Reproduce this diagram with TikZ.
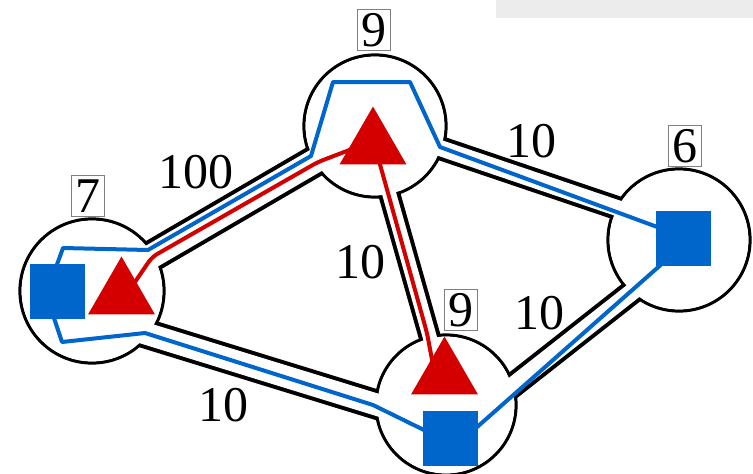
\documentclass[tikz,border=0pt]{standalone}
\usepackage{fontspec}
\setmainfont{Liberation Serif}
\usetikzlibrary{calc,shapes.geometric}
\definecolor{netblue}{HTML}{0066CC}
\definecolor{netred}{HTML}{D40000}
\definecolor{bargray}{HTML}{ECECEC}

\begin{document}
\begin{tikzpicture}[x=1pt,y=-1pt,
  site/.style={circle,draw,line width=3.2pt,inner sep=0,minimum size=#1},
  cost/.style={font=\fontsize{50}{60}\selectfont,inner sep=0},
  wt/.style={draw=gray,line width=1.2pt,font=\fontsize{50}{60}\selectfont,inner sep=4pt},
  sq/.style={fill=netblue,inner sep=0,minimum size=55},
  tri/.style={regular polygon,regular polygon sides=3,fill=netred,inner sep=0,minimum size=77},
  bl/.style={netblue,line width=4pt,line join=round},
  rd/.style={netred,line width=4pt,line join=round,rounded corners=6pt}]

\useasboundingbox (0,0) rectangle (753,474);
\fill[bargray] (496,0) rectangle (753,18);

% routers
\node[site=144] (A) at (92,291) {};
\node[site=142] (B) at (375,126) {};
\node[site=140] (C) at (446,405) {};
\node[site=142] (D) at (679,240) {};

% tube ends
\coordinate (bdD) at ($(D)+(0,-11)$);
\coordinate (acA) at ($(A)+(0,26)$);
\coordinate (acC) at ($(C)+(0,21)$);
\coordinate (bcB) at ($(B)+(-5,0)$);
\coordinate (bcC) at ($(C)+(3,0)$);
\coordinate (cdC) at ($(C)+(0,33)$);
\coordinate (cdD) at ($(D)+(0,15)$);

% tubes: black rim, then white inside
\foreach \s/\t/\w in {A/B/28,B/bdD/20,acA/acC/26,bcB/bcC/18,cdC/cdD/21}
  \draw[line width={(\w+4)*1pt}] (\s.center) -- (\t.center);
\foreach \s/\t/\w in {A/B/28,B/bdD/20,acA/acC/26,bcB/bcC/18,cdC/cdD/21}
  \draw[white,line width={(\w-4)*1pt}] (\s.center) -- (\t.center);
\foreach \n/\r in {A/70.4,B/69.4,C/68.4,D/69.4}
  \fill[white] (\n.center) circle[radius=\r pt];

% blue route
\draw[bl] (55,270) -- (63,248) -- (148,250) -- (311,156) -- (333,82) -- (410,82)
  -- (440,147) -- (660,228);
\draw[bl] (664,262) -- (476,428);
\draw[bl] (428,432) -- (373,405) -- (145,333) -- (62,342) -- (52,312);

% red routes
\draw[rd] (360,146) -- (318,162) -- (152,257) -- (135,282);
\draw[rd] (376,150) -- (427,333) -- (433,365);

% hosts
\node[sq] (sqA) at (57.5,291) {};
\node[sq] (sqC) at (450.5,438) {};
\node[sq] (sqD) at (683.5,238) {};
\node[tri] (trA) at (121.5,295) {};
\node[tri] (trB) at (373,145) {};
\node[tri] (trC) at (444.5,375) {};

% link costs
\node[cost] (cAB) at (196,172) {100};
\node[cost] (cBD) at (531,141) {10};
\node[cost] (cBC) at (360,262) {10};
\node[cost] (cCD) at (539,313) {10};
\node[cost] (cAC) at (223,405) {10};

% router weights
\node[wt] (wA) at (88,196) {7};
\node[wt] (wB) at (374,30) {9};
\node[wt] (wC) at (461,310) {9};
\node[wt] (wD) at (685,146) {6};

\end{tikzpicture}
\end{document}
